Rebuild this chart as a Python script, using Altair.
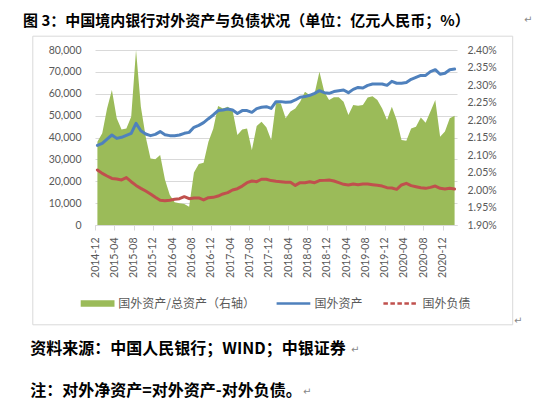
import altair as alt
import pandas as pd

months = [d.strftime("%Y-%m") for d in pd.date_range("2014-12-01", "2021-02-01", freq="MS")]

ratio = [2.138, 2.162, 2.233, 2.286, 2.205, 2.173, 2.176, 2.209, 2.400, 2.238,
         2.152, 2.090, 2.088, 2.100, 2.029, 1.986, 1.965, 1.962, 1.960, 1.952,
         2.050, 2.074, 2.078, 2.138, 2.175, 2.240, 2.233, 2.238, 2.228, 2.157,
         2.173, 2.176, 2.114, 2.183, 2.195, 2.179, 2.143, 2.249, 2.247, 2.205,
         2.224, 2.233, 2.252, 2.281, 2.271, 2.276, 2.338, 2.281, 2.257, 2.265,
         2.265, 2.252, 2.214, 2.243, 2.241, 2.243, 2.264, 2.268, 2.257, 2.233,
         2.200, 2.238, 2.200, 2.143, 2.141, 2.176, 2.181, 2.207, 2.192, 2.224,
         2.257, 2.152, 2.167, 2.205, 2.212]

assets = [36400, 37300, 39300, 41150, 39600, 40100, 41000, 41900, 46500, 43100,
          41600, 40850, 41450, 42700, 41300, 40850, 40850, 41150, 41900, 42350,
          44650, 45550, 46800, 48600, 50300, 52300, 52600, 53000, 52600, 51000,
          52300, 52300, 51500, 53200, 53800, 54100, 53300, 56400, 56400, 56100,
          56200, 57150, 58400, 58700, 59300, 60200, 61400, 60500, 60200, 61000,
          61400, 61700, 60500, 62000, 62900, 62600, 63850, 64450, 64450, 64450,
          63850, 65700, 64800, 64800, 65100, 66600, 67500, 68400, 68400, 70100,
          71000, 68900, 69350, 71000, 71300]

liabilities = [25150, 23600, 22400, 21300, 21000, 20600, 21650, 19800, 18100, 16750,
               15550, 14200, 12650, 11300, 11100, 11300, 11750, 12050, 12950, 12050,
               12350, 12350, 11450, 12500, 12650, 13250, 14200, 14800, 16000, 16600,
               17800, 19350, 20100, 19800, 20900, 20900, 20300, 20000, 19800, 19500,
               19500, 18100, 19350, 19350, 19800, 19350, 20300, 20400, 20600, 20100,
               19350, 18600, 18300, 18750, 18450, 18750, 18750, 18450, 18150, 17800,
               17050, 16900, 16300, 18300, 19050, 18000, 17500, 17050, 16750, 17200,
               17800, 16750, 16450, 16750, 16450]

tick_labels = months[::4]
left_ticks = [0, 10000, 20000, 30000, 40000, 50000, 60000, 70000, 80000]
right_ticks = [1.90, 1.95, 2.00, 2.05, 2.10, 2.15, 2.20, 2.25, 2.30, 2.35, 2.40]

series_names = ["国外资产", "国外负债"]
GREEN, BLUE, RED, GRAY, GRID = "#9BBB59", "#4F81BD", "#C0504D", "#595959", "#D9D9D9"
NUM_FONT = "Lato"
CJK = "Noto Sans CJK SC"

df_area = pd.DataFrame({"month": months, "ratio": ratio, "base": [1.90] * len(months)})
df_lines = pd.concat([
    pd.DataFrame({"month": months, "value": assets, "series": series_names[0]}),
    pd.DataFrame({"month": months, "value": liabilities, "series": series_names[1]}),
])

xenc = alt.X("month:O", sort=months,
             scale=alt.Scale(type="point", padding=0.5),
             axis=alt.Axis(values=tick_labels, labelAngle=270, title=None, grid=False,
                           labelFont=NUM_FONT, labelFontSize=10.5, labelColor=GRAY,
                           tickColor=GRID, tickSize=5, tickOffset=-2.4,
                           domainColor=GRID, labelPadding=7))

area = alt.Chart(df_area).mark_area(color=GREEN, opacity=1).encode(
    x=xenc,
    y=alt.Y("ratio:Q", scale=alt.Scale(domain=[1.90, 2.40], nice=False, zero=False),
            axis=alt.Axis(orient="right", values=right_ticks, grid=False, domain=False,
                          ticks=False, labelPadding=10, title=None,
                          labelExpr="format(datum.value, '.2f') + '%'",
                          labelFont=NUM_FONT, labelFontSize=10.5, labelColor=GRAY)),
    y2="base:Q",
)

lines = alt.Chart(df_lines).mark_line(strokeWidth=3, strokeJoin="round", strokeCap="round").encode(
    x=xenc,
    y=alt.Y("value:Q", scale=alt.Scale(domain=[0, 80000], nice=False),
            axis=alt.Axis(orient="left", values=left_ticks, format=",.0f", grid=True,
                          gridColor=GRID, domain=False, ticks=False, labelPadding=14,
                          title=None, labelFont=NUM_FONT, labelFontSize=10.5,
                          labelColor=GRAY)),
    color=alt.Color("series:N", scale=alt.Scale(domain=series_names, range=[BLUE, RED]),
                    legend=None),
    detail="series:N",
)

one = pd.DataFrame({"k": [0]})

border = alt.Chart(one).mark_rect(fill="#ffffff", fillOpacity=0, stroke=GRID, strokeWidth=1).encode(
    x=alt.value(-62.2), x2=alt.value(417.7), y=alt.value(-13.8), y2=alt.value(274.8))


def txt(s, x, y, size, color="#000000", weight="normal", font=CJK):
    return alt.Chart(one).mark_text(text=s, align="left", baseline="middle", fontSize=size,
                                    font=font, fontWeight=weight, color=color).encode(
        x=alt.value(x), y=alt.value(y))


leg_y = 253.5
leg_rect = alt.Chart(one).mark_rect(color=GREEN).encode(
    x=alt.value(-14.3), x2=alt.value(19.5), y=alt.value(250.3), y2=alt.value(256.8))
leg_blue = alt.Chart(one).mark_rule(color=BLUE, strokeWidth=2.5).encode(
    x=alt.value(181.6), x2=alt.value(215.3), y=alt.value(leg_y))
leg_red = alt.Chart(one).mark_rule(color=RED, strokeWidth=2.5, strokeDash=[4.5, 2.5]).encode(
    x=alt.value(288.4), x2=alt.value(323), y=alt.value(leg_y))

layers = [
    border,
    area,
    lines,
    leg_rect, leg_blue, leg_red,
    txt("国外资产/总资产（右轴）", 23.3, leg_y, 12, GRAY),
    txt("国外资产", 219.5, leg_y, 12, GRAY),
    txt("国外负债", 327.4, leg_y, 12, GRAY),
    txt("图 3：中国境内银行对外资产与负债状况（单位：亿元人民币；%）", -72, -29.5, 15, weight="bold"),
    txt("资料来源：中国人民银行；WIND；中银证券", -64.7, 299, 16, weight="bold"),
    txt("注：对外净资产=对外资产-对外负债。", -64.7, 341, 16, weight="bold"),
    txt("↵", 429, -30, 10, "#888888", font="DejaVu Sans"),
    txt("↵", 256, 300, 10, "#888888", font="DejaVu Sans"),
    txt("↵", 208, 342, 10, "#888888", font="DejaVu Sans"),
    txt("↵", 419, 271, 10, "#888888", font="DejaVu Sans"),
]

chart = alt.layer(*layers).resolve_scale(y="independent").properties(
    width=362, height=175,
    autosize=alt.AutoSizeParams(type="none"),
    padding={"left": 87, "top": 42, "right": 77, "bottom": 175},
).configure_view(strokeWidth=0)

chart.save("out.html", embed_options={"renderer": "svg", "actions": False})
